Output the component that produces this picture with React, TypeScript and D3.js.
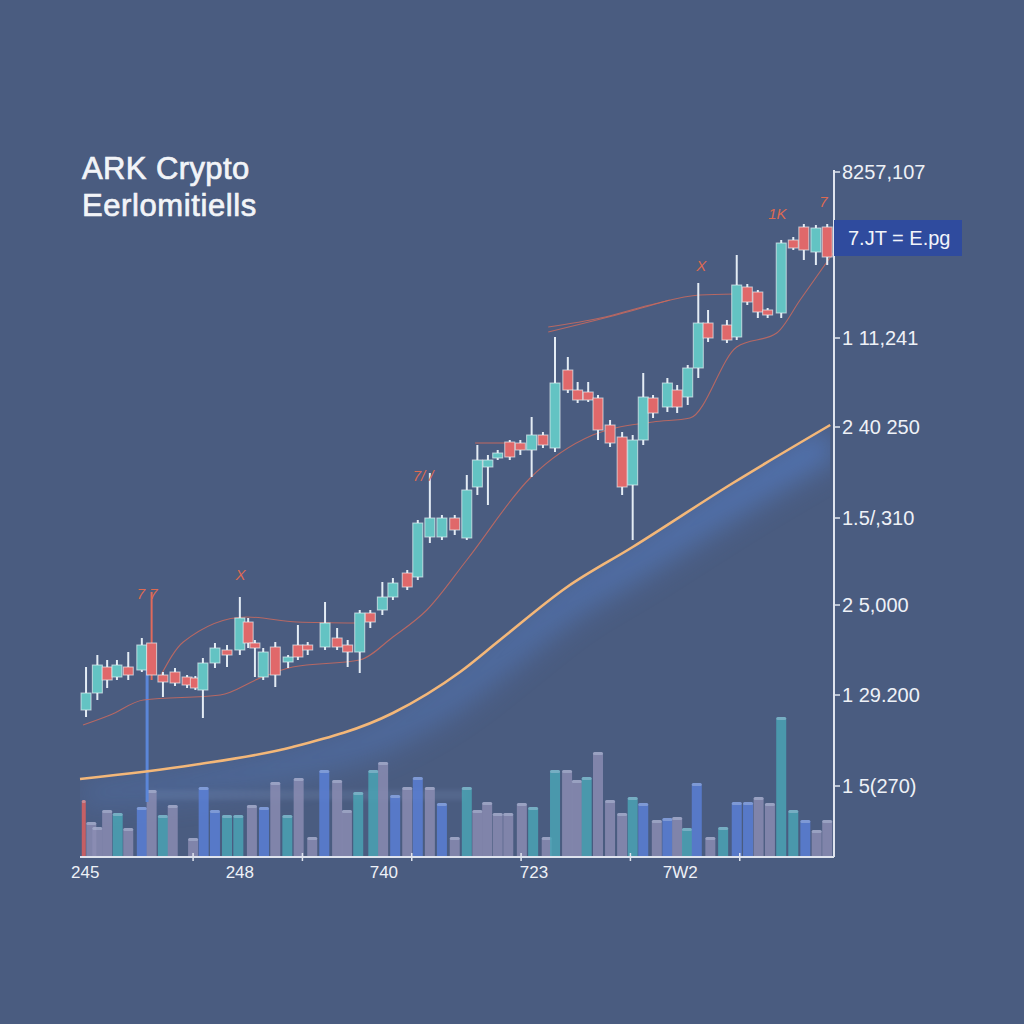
import React from "react";
import * as d3 from "d3";

// ---- data (t = session position 0..100, prices in chart units) ----
type Candle = [number, number, number, number, number]; // t, open, high, low, close
const candles: Candle[] = [
  [0.8, 147, 190, 140, 164], [2.3, 164, 202, 157, 192], [3.6, 190, 197, 169, 177],
  [4.9, 180, 197, 177, 192], [6.4, 190, 205, 177, 182], [8.2, 187, 219, 185, 212],
  [9.5, 214, 265, 177, 182], [11, 182, 185, 160, 175], [12.6, 185, 189, 171, 174],
  [14.2, 180, 182, 169, 172], [15.3, 179, 181, 167, 169], [16.3, 167, 199, 139, 194],
  [17.9, 194, 214, 189, 209], [19.5, 207, 212, 190, 202], [21.2, 207, 260, 202, 239],
  [22.3, 235, 239, 209, 214], [23.2, 214, 217, 180, 209], [24.3, 180, 209, 177, 205],
  [25.9, 210, 215, 170, 182], [27.6, 195, 202, 189, 200], [28.9, 212, 232, 197, 200],
  [30.2, 212, 215, 202, 207], [32.5, 210, 255, 207, 234], [34.1, 219, 229, 207, 210],
  [35.5, 212, 217, 190, 205], [37.1, 205, 247, 184, 244], [38.5, 244, 247, 229, 235],
  [40.1, 247, 275, 242, 260], [41.5, 260, 279, 257, 274], [43.4, 284, 287, 267, 270],
  [44.8, 280, 337, 277, 334], [46.4, 320, 384, 314, 339], [48, 320, 342, 317, 339],
  [49.7, 339, 342, 322, 327], [51.3, 319, 382, 317, 367], [52.7, 370, 412, 362, 397],
  [54.1, 390, 402, 352, 397], [55.4, 399, 407, 397, 404], [57, 415, 417, 397, 400],
  [58.4, 414, 417, 402, 407], [59.9, 407, 440, 380, 422], [61.4, 422, 425, 409, 412],
  [63, 409, 520, 405, 474], [64.7, 487, 500, 464, 467], [66, 467, 475, 454, 457],
  [67.4, 465, 475, 455, 457], [68.7, 459, 462, 417, 427], [70.3, 432, 437, 410, 414],
  [71.9, 420, 425, 362, 370], [73.3, 372, 422, 317, 417], [74.7, 417, 484, 412, 460],
  [76, 459, 462, 439, 444], [77.9, 450, 479, 445, 474], [79.2, 467, 472, 444, 450],
  [80.6, 460, 492, 452, 489], [82, 489, 574, 479, 534], [83.3, 534, 547, 515, 519],
  [85.8, 532, 537, 514, 517], [87.1, 520, 602, 517, 572], [88.5, 570, 573, 552, 555],
  [89.9, 565, 567, 539, 545], [91.2, 547, 549, 539, 542], [93, 544, 617, 539, 614],
  [94.6, 617, 620, 607, 609], [96, 630, 633, 597, 607], [97.6, 605, 632, 592, 629],
  [99.1, 630, 633, 592, 600],
];

type Vol = [number, number, string]; // t, volume, kind
const volumes: Vol[] = [
  [0.5, 57, "r"], [1.5, 35, "m"], [2.3, 30, "m"], [3.6, 47, "m"], [5, 44, "t"],
  [6.4, 29, "m"], [8.2, 50, "b"], [9.5, 67, "m"], [11, 42, "t"], [12.3, 52, "m"],
  [15, 19, "m"], [16.4, 70, "b"], [17.9, 47, "b"], [19.5, 42, "t"], [21, 42, "t"],
  [22.8, 52, "m"], [24.4, 50, "b"], [25.9, 75, "m"], [27.5, 42, "t"], [29, 79, "m"],
  [30.8, 20, "m"], [32.4, 87, "b"], [34.1, 77, "m"], [35.4, 47, "m"], [36.9, 65, "t"],
  [38.9, 87, "t"], [40.2, 95, "m"], [41.8, 62, "b"], [43.4, 70, "m"], [44.8, 80, "b"],
  [46.4, 70, "m"], [48, 54, "b"], [49.7, 20, "m"], [51.3, 70, "t"], [52.7, 47, "m"],
  [54, 55, "m"], [55.4, 44, "m"], [56.8, 44, "m"], [58.6, 54, "m"], [60.1, 50, "t"],
  [61.9, 20, "m"], [63, 87, "t"], [64.6, 87, "m"], [65.9, 77, "m"], [67.2, 80, "t"],
  [68.7, 105, "m"], [70.3, 57, "m"], [71.9, 44, "m"], [73.3, 60, "t"], [74.7, 54, "b"],
  [76.5, 37, "m"], [77.9, 39, "b"], [79.2, 40, "m"], [80.5, 29, "t"], [81.8, 74, "b"],
  [83.6, 20, "m"], [85.3, 30, "t"], [87.1, 55, "b"], [88.6, 55, "b"], [90, 60, "m"],
  [91.5, 54, "m"], [93, 140, "t"], [94.6, 47, "t"], [96.2, 37, "b"], [97.7, 27, "m"],
  [99.1, 37, "m"],
];

const trendLine: [number, number][] = [
  [0, 78], [15, 92], [28.2, 110], [41.5, 144], [50.4, 185], [55.7, 217],
  [64.6, 270], [73.3, 310], [86.6, 374], [99.5, 432],
];

const maLower: [number, number][] = [
  [0.4, 132], [4, 142], [8.4, 157], [18.6, 162], [23.9, 179], [28.2, 190],
  [37.1, 197], [41.5, 220], [46, 247], [51.3, 297], [59.7, 379], [68, 422],
  [76, 435], [80.9, 439], [87.1, 510], [92.4, 524], [95.5, 557], [99.9, 604],
];
const maUpper: [number, number][][] = [
  [[10.6, 180], [13.7, 215], [22.1, 240], [28.8, 235], [36.7, 234]],
  [[52.4, 414], [56.4, 414]],
  [[62.1, 530], [69, 539], [75.6, 552], [82.2, 562], [86.9, 563]],
  [[62.1, 525], [71.6, 543], [78.2, 557]],
];

const priceTicks = [685, 519, 430, 339, 252, 162, 71];
const priceTickLabels = ["8257,107", "1  11,241", "2 40 250", "1.5/,310", "2  5,000", "1  29.200", "1  5(270)"];
const timeTicks = [15, 29.5, 44, 58.5, 73, 87.5];
const timeLabels = ["245", "248", "740", "723", "7W2"];
const timeLabelPos = [0.7, 21.2, 40.3, 60.2, 79.6];

const annotations: [number, number, string][] = [
  [8.9, 258, "7 7"], [21.3, 277, "X"], [45.5, 376, "7/ /"], [82.4, 586, "X"], [92.5, 638, "1K"], [98.6, 650, "7"],
];
const lastPriceLabel = "7.JT = E.pg";
const lastPrice = 620;

const COLORS: Record<string, string> = { r: "#e0605e", m: "#8c8db3", t: "#4aa6b6", b: "#5a80d8" };

export default function App() {
  const W = 1024, H = 1024;
  const left = 80, right = 834, top = 170, bottom = 857;
  const x = d3.scaleLinear().domain([0, 100]).range([left, right]);
  const y = d3.scaleLinear().domain([0, 687]).range([bottom, top]);
  const v = d3.scaleLinear().domain([0, 687]).range([0, bottom - top]);

  const line = d3.line<[number, number]>().x(d => x(d[0])).y(d => y(d[1])).curve(d3.curveMonotoneX);
  const area = d3.area<[number, number]>().x(d => x(d[0])).y0(bottom).y1(d => y(d[1])).curve(d3.curveMonotoneX);
  const cw = 10;
  const font = "'Liberation Sans', Arial, sans-serif";

  return (
    <svg width={W} height={H} style={{ position: "fixed", left: 0, top: 0 }}>
      <defs>
        <filter id="glow" x="-20%" y="-50%" width="140%" height="200%">
          <feGaussianBlur stdDeviation="14" />
        </filter>
        <filter id="soft" x="-50%" y="-50%" width="200%" height="200%">
          <feGaussianBlur stdDeviation="2" />
        </filter>
        <linearGradient id="fadeX" x1="0" x2="1" y1="0" y2="0">
          <stop offset="0" stopColor="#5a8be0" stopOpacity={0.35} />
          <stop offset="1" stopColor="#5a8be0" stopOpacity={1} />
        </linearGradient>
        <clipPath id="under">
          <path d={area(trendLine) || ""} />
        </clipPath>
      </defs>
      <rect width={W} height={H} fill="#4a5c80" />

      {/* title */}
      <text x={82} y={179} fill="#f2f4f8" stroke="#f2f4f8" strokeWidth={0.7} fontFamily={font} fontSize={31} letterSpacing={0.4}>ARK Crypto</text>
      <text x={82} y={216} fill="#f2f4f8" stroke="#f2f4f8" strokeWidth={0.7} fontFamily={font} fontSize={31} letterSpacing={0.6}>Eerlomitiells</text>

      {/* glow below trend */}
      <g clipPath="url(#under)">
        <path d={line(trendLine) || ""} transform="translate(0,16)" fill="none" stroke="url(#fadeX)" strokeWidth={34} opacity={0.5} filter="url(#glow)" />
      </g>

      {/* volume bars */}
      <rect x={x(9)} y={y(67)} width={x(51) - x(9)} height={10} fill="#9fb6e0" opacity={0.12} filter="url(#soft)" />
      {volumes.map((d, i) => (
        <g key={i}>
          <rect x={x(d[0]) - (d[2] === "r" ? 2 : cw / 2)} y={bottom - v(d[1])} width={d[2] === "r" ? 4 : cw} height={v(d[1])}
            fill={COLORS[d[2]]} opacity={0.82} rx={1.5} />
          <rect x={x(d[0]) - (d[2] === "r" ? 2 : cw / 2)} y={bottom - v(d[1])} width={d[2] === "r" ? 4 : cw} height={3}
            fill="#c9d6ee" opacity={0.35} rx={1.5} />
        </g>
      ))}

      {/* marker line */}
      <line x1={x(8.9)} x2={x(8.9)} y1={y(187)} y2={y(55)} stroke="#5b86d8" strokeWidth={3} />

      {/* trend line */}
      <path d={line(trendLine) || ""} fill="none" stroke="#f3b779" strokeWidth={2.6} />

      {/* moving averages */}
      <path d={line(maLower) || ""} fill="none" stroke="#c96a5e" strokeWidth={1.1} opacity={0.85} />
      {maUpper.map((s, i) => (
        <path key={i} d={line(s) || ""} fill="none" stroke="#c96a5e" strokeWidth={1.1} opacity={0.85} />
      ))}

      {/* candles */}
      {candles.map((c, i) => {
        const [t, o, h, l, cl] = c;
        const up = cl >= o;
        const cx = x(t);
        const bt = y(Math.max(o, cl)), bb = y(Math.min(o, cl));
        return (
          <g key={i}>
            <line x1={cx} x2={cx} y1={y(h)} y2={y(l)} stroke={h - Math.max(o, cl) > 40 && !up ? "#e06a5c" : "#e4ecf4"} strokeWidth={2} />
            <rect x={cx - cw / 2} y={bt} width={cw} height={Math.max(3, bb - bt)}
              fill={up ? "#63c3c3" : "#e0686a"} stroke="#e8f2f4" strokeWidth={1} strokeOpacity={0.7} />
          </g>
        );
      })}

      {/* annotations */}
      {annotations.map((a, i) => (
        <text key={i} x={x(a[0])} y={y(a[1])} fill="#dc6a52" fontFamily={font} fontSize={15} fontStyle="italic" textAnchor="middle">{a[2]}</text>
      ))}

      {/* right axis */}
      <line x1={right} x2={right} y1={top} y2={bottom} stroke="#dfe4ee" strokeWidth={2} />
      {priceTicks.map((p, i) => (
        <g key={i}>
          <line x1={right} x2={right + 6} y1={y(p)} y2={y(p)} stroke="#dfe4ee" strokeWidth={1.5} />
          <text x={right + 8} y={y(p)} dy="0.35em" fill="#eef1f7" fontFamily={font} fontSize={20}>{priceTickLabels[i]}</text>
        </g>
      ))}
      {/* last price tag */}
      <rect x={right} y={y(lastPrice) - 17} width={128} height={36} fill="#2f4b9e" />
      <text x={right + 14} y={y(lastPrice) + 1} dy="0.35em" fill="#f2f4fa" fontFamily={font} fontSize={20}>{lastPriceLabel}</text>

      {/* bottom axis */}
      <line x1={left} x2={right} y1={bottom} y2={bottom} stroke="#dfe4ee" strokeWidth={2} />
      {timeTicks.map((t, i) => (
        <line key={i} x1={x(t)} x2={x(t)} y1={bottom - 4} y2={bottom + 4} stroke="#dfe4ee" strokeWidth={1.5} />
      ))}
      {timeLabels.map((s, i) => (
        <text key={i} x={x(timeLabelPos[i])} y={878} fill="#eef1f7" fontFamily={font} fontSize={17} textAnchor="middle">{s}</text>
      ))}
    </svg>
  );
}
